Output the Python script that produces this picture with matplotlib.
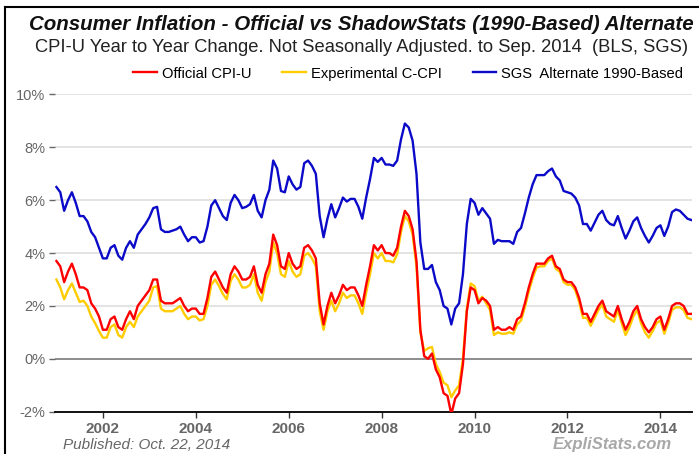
import numpy as np
import matplotlib
matplotlib.use("Agg")
from matplotlib import pyplot as plt
from matplotlib.lines import Line2D

plt.rcParams['font.family'] = ['Liberation Sans', 'DejaVu Sans']

# monthly year-over-year change, Jan 2001 .. Sep 2014
cpi_u = [
    3.7, 3.5, 2.9, 3.3, 3.6, 3.2, 2.7, 2.7, 2.6, 2.1, 1.9, 1.6,
    1.1, 1.1, 1.5, 1.6, 1.2, 1.1, 1.5, 1.8, 1.5, 2.0, 2.2, 2.4,
    2.6, 3.0, 3.0, 2.2, 2.1, 2.1, 2.1, 2.2, 2.3, 2.0, 1.8, 1.9,
    1.9, 1.7, 1.7, 2.3, 3.1, 3.3, 3.0, 2.7, 2.5, 3.2, 3.5, 3.3,
    3.0, 3.0, 3.1, 3.5, 2.8, 2.5, 3.2, 3.6, 4.7, 4.3, 3.5, 3.4,
    4.0, 3.6, 3.4, 3.5, 4.2, 4.3, 4.1, 3.8, 2.1, 1.3, 2.0, 2.5,
    2.1, 2.4, 2.8, 2.6, 2.7, 2.7, 2.4, 2.0, 2.8, 3.5, 4.3, 4.1,
    4.3, 4.0, 4.0, 3.9, 4.2, 5.0, 5.6, 5.4, 4.9, 3.7, 1.1, 0.1,
    0.0, 0.2, -0.4, -0.7, -1.3, -1.4, -2.1, -1.5, -1.3, -0.2, 1.8, 2.7,
    2.6, 2.1, 2.3, 2.2, 2.0, 1.1, 1.2, 1.1, 1.1, 1.2, 1.1, 1.5,
    1.6, 2.1, 2.7, 3.2, 3.6, 3.6, 3.6, 3.8, 3.9, 3.5, 3.4, 3.0,
    2.9, 2.9, 2.7, 2.3, 1.7, 1.7, 1.4, 1.7, 2.0, 2.2, 1.8, 1.7,
    1.6, 2.0, 1.5, 1.1, 1.4, 1.8, 2.0, 1.5, 1.2, 1.0, 1.2, 1.5,
    1.6, 1.1, 1.5, 2.0, 2.1, 2.1, 2.0, 1.7, 1.7,
]

c_cpi = [
    3.0, 2.7, 2.25, 2.6, 2.85, 2.5, 2.15, 2.2, 2.0, 1.6, 1.35, 1.05,
    0.8, 0.8, 1.2, 1.3, 0.9, 0.8, 1.2, 1.4, 1.2, 1.6, 1.8, 2.0,
    2.2, 2.7, 2.75, 1.9, 1.8, 1.8, 1.8, 1.9, 2.0, 1.7, 1.5, 1.6,
    1.6, 1.45, 1.5, 2.0, 2.8, 3.0, 2.75, 2.45, 2.25, 2.95, 3.2, 3.0,
    2.7, 2.7, 2.8, 3.2, 2.5, 2.2, 2.9, 3.3, 4.4, 4.0, 3.2, 3.1,
    3.7, 3.3, 3.1, 3.2, 3.9, 4.0, 3.8, 3.5, 1.8, 1.1, 1.8, 2.2,
    1.8, 2.1, 2.5, 2.3, 2.4, 2.4, 2.1, 1.7, 2.5, 3.2, 4.0, 3.8,
    4.0, 3.7, 3.7, 3.65, 3.95, 4.8, 5.4, 5.2, 4.7, 3.5, 1.0, 0.3,
    0.4, 0.45, -0.2, -0.5, -0.9, -1.0, -1.45, -1.2, -1.0, 0.0, 1.9, 2.85,
    2.75, 2.2, 2.35, 2.1, 1.85, 0.9, 1.0, 0.95, 0.95, 1.0, 0.95, 1.3,
    1.45, 1.95, 2.55, 3.05, 3.45, 3.5, 3.5, 3.7, 3.8, 3.4, 3.3, 2.9,
    2.8, 2.8, 2.6, 2.15, 1.55, 1.55, 1.25, 1.55, 1.85, 2.05, 1.6, 1.5,
    1.4, 1.85, 1.35, 0.9, 1.2, 1.6, 1.85, 1.35, 1.0, 0.8, 1.05, 1.35,
    1.45, 0.95, 1.35, 1.85, 1.95, 1.95, 1.85, 1.55, 1.5,
]

sgs_1990 = [
    6.5, 6.3, 5.6, 6.0, 6.3, 5.9, 5.4, 5.4, 5.2, 4.8, 4.6, 4.2,
    3.8, 3.8, 4.2, 4.3, 3.9, 3.75, 4.2, 4.45, 4.2, 4.7, 4.9, 5.1,
    5.35, 5.7, 5.75, 4.9, 4.8, 4.8, 4.85, 4.9, 5.0, 4.7, 4.45, 4.6,
    4.6, 4.4, 4.45, 5.0, 5.8, 6.0, 5.7, 5.4, 5.25, 5.9, 6.2, 6.0,
    5.7, 5.75, 5.85, 6.2, 5.6, 5.35, 6.0, 6.4, 7.5, 7.2, 6.35, 6.3,
    6.9, 6.6, 6.4, 6.5, 7.4, 7.5, 7.3, 7.0, 5.4, 4.6, 5.3, 5.85,
    5.35, 5.7, 6.1, 5.95, 6.05, 6.05, 5.75, 5.3, 6.1, 6.8, 7.6, 7.45,
    7.6, 7.35, 7.35, 7.3, 7.5, 8.3, 8.9, 8.75, 8.25, 7.0, 4.4, 3.4,
    3.4, 3.55, 2.9, 2.6, 2.0, 1.9, 1.3, 1.9, 2.1, 3.2, 5.1, 6.05,
    5.9, 5.45, 5.7, 5.5, 5.3, 4.35, 4.5, 4.45, 4.45, 4.45, 4.35, 4.8,
    4.95, 5.5, 6.1, 6.6, 6.95, 6.95, 6.95, 7.1, 7.2, 6.9, 6.75, 6.35,
    6.3, 6.25, 6.1, 5.8, 5.1, 5.1, 4.85, 5.15, 5.45, 5.6, 5.25, 5.1,
    5.05, 5.4, 4.95, 4.55, 4.85, 5.2, 5.35, 4.95, 4.65, 4.4, 4.65, 4.95,
    5.05, 4.65, 5.0, 5.55, 5.65, 5.6, 5.45, 5.3, 5.25,
]

years = [2002, 2004, 2006, 2008, 2010, 2012, 2014]
pct_ticks = [-2, 0, 2, 4, 6, 8, 10]

t = 2001 + np.arange(len(cpi_u)) / 12.0

fig = plt.figure(figsize=(6.99, 4.54), dpi=100)
ax = fig.add_axes([0.0787, 0.0932, 0.9113, 0.6987])

for y in pct_ticks[2:]:
    ax.axhline(y, color='#e3e3e3', lw=1.4, zorder=1)
ax.axhline(0, color='#8c8c8c', lw=1.4, zorder=1)

ax.plot(t, c_cpi, color='#ffcc00', lw=1.7, zorder=3, label='Experimental C-CPI')
ax.plot(t, cpi_u, color='#ff0000', lw=1.7, zorder=4, label='Official CPI-U')
ax.plot(t, sgs_1990, color='#0a0ac8', lw=1.7, zorder=5, label='SGS  Alternate 1990-Based')

ax.set_xlim(2000.97, 2014.68)
ax.set_ylim(-2, 10)
ax.set_xticks(years)
ax.set_xticklabels([str(y) for y in years], fontweight='bold', color='#666666', fontsize=11)
ax.set_yticks(pct_ticks)
ax.set_yticklabels(['%d%%' % v for v in pct_ticks], color='#666666', fontsize=10.5)
ax.tick_params(axis='y', length=4.3, width=1, color='#666666', pad=2.5)
ax.tick_params(axis='x', length=4.5, width=1, color='#333333', pad=3)

for s in ['top', 'right', 'left']:
    ax.spines[s].set_visible(False)
ax.spines['bottom'].set_color('#111111')
ax.spines['bottom'].set_linewidth(1.4)

h, l = ax.get_legend_handles_labels()
order = [1, 0, 2]
fig.legend([h[i] for i in order], [l[i] for i in order], ncol=3, frameon=False,
           loc='center', bbox_to_anchor=(0.584, 0.838), fontsize=10.6,
           handlelength=1.6, columnspacing=2.1, handletextpad=0.35)

fig.text(0.5165, 0.947, 'Consumer Inflation - Official vs ShadowStats (1990-Based) Alternate',
         ha='center', va='center', fontsize=14.8, fontweight='bold', style='italic', color='#111111')
fig.text(0.517, 0.895, 'CPI-U Year to Year Change. Not Seasonally Adjusted. to Sep. 2014  (BLS, SGS)',
         ha='center', va='center', fontsize=13.2, color='#222222')
fig.text(0.09, 0.01, 'Published: Oct. 22, 2014', ha='left', va='baseline',
         fontsize=11, style='italic', color='#666666')
fig.text(0.961, 0.011, 'ExpliStats.com', ha='right', va='baseline',
         fontsize=12, fontweight='bold', style='italic', color='#a8a8a8')

# outer frame (left and top edges)
fig.add_artist(Line2D([0.007, 0.007], [0.0, 0.9835], color='black', lw=1.5, transform=fig.transFigure))
fig.add_artist(Line2D([0.007, 1.0], [0.9835, 0.9835], color='black', lw=1.5, transform=fig.transFigure))

fig.savefig('out.png', dpi=100)
